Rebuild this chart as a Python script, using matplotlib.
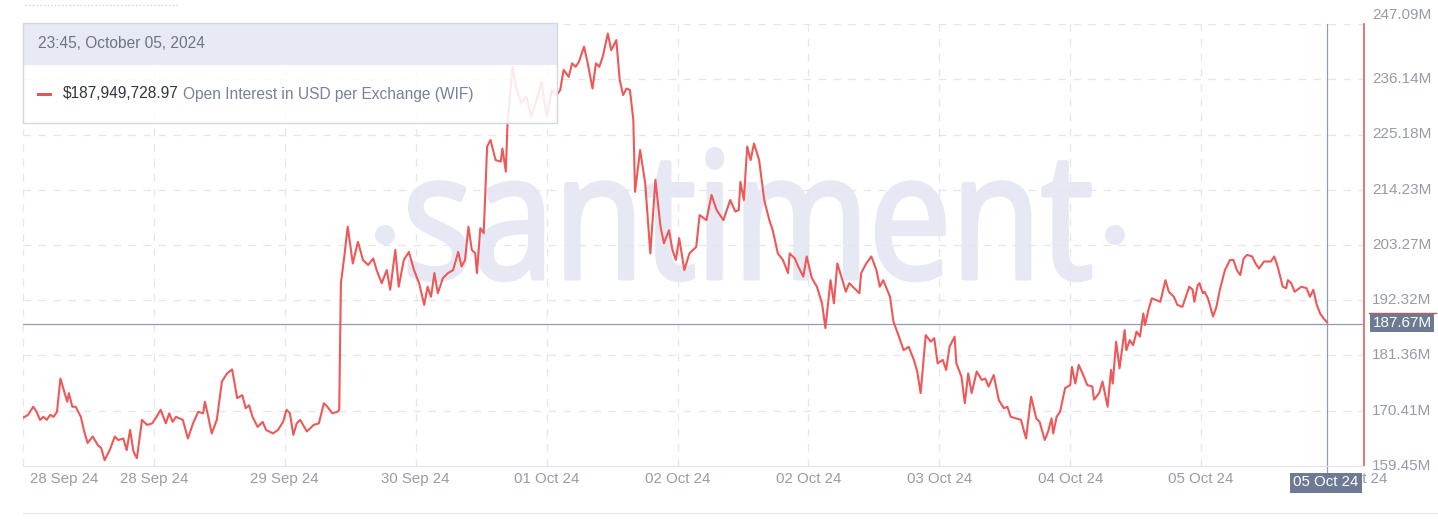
import matplotlib.pyplot as plt
from matplotlib.patches import Rectangle, PathPatch, Circle
from matplotlib.lines import Line2D
from matplotlib.text import Annotation
from matplotlib.textpath import TextPath
from matplotlib.font_manager import FontProperties
from matplotlib.transforms import Affine2D, IdentityTransform

plt.rcParams['font.family'] = ['Liberation Sans', 'DejaVu Sans']

# hours since 28 Sep 2024 00:00 and open interest in millions of USD
hours = [0, 0.75, 1.5, 2.0, 2.5, 3.0, 3.5, 4.0, 4.5, 5.0, 5.5, 6.0, 6.5, 6.75, 7.25, 7.75,
         8.5, 9.0, 9.5, 10.25, 11.0, 11.5, 12.0, 12.75, 13.5, 14.0, 14.75, 15.25, 15.75,
         16.25, 16.75, 17.5, 18.25, 19.0, 19.5, 20.25, 21.0, 21.5, 22.0, 22.5, 23.5, 24.25,
         25.0, 25.75, 26.5, 26.75, 27.25, 27.75, 28.5, 29.25, 30.0, 30.75, 31.5, 32.25,
         32.75, 33.25, 33.75, 34.5, 35.25, 35.75, 36.75, 37.5, 38.25, 38.75, 39.25, 39.75,
         40.25, 40.75, 41.75, 42.75, 43.5, 44.25, 44.75, 45.5, 46.25, 46.5, 46.75, 47.25,
         47.75, 48.5, 49.25, 50.0, 50.75, 51.5, 52.0, 52.75, 53.5, 54.0, 54.75, 55.25, 56.0,
         56.75, 57.5, 58.25, 59.0, 59.5, 60.0, 60.5, 61.0, 61.75, 62.5, 63.25, 64.0, 64.5,
         65.0, 65.5, 66.0, 66.5, 66.75, 67.25, 67.75, 68.25, 68.75, 69.5, 70.25, 70.5, 71.0,
         71.25, 72.0, 72.5, 73.25, 74.0, 74.75, 75.5, 76.25, 77.0, 77.75, 78.5, 79.0, 79.5,
         80.25, 80.75, 81.25, 81.75, 82.5, 83.0, 83.75, 84.25, 84.75, 85.25, 86.0, 86.5,
         87.25, 87.75, 88.25, 88.75, 89.25, 89.75, 90.0, 90.75, 91.5, 92.25, 93.0, 93.75,
         94.25, 95.0, 95.5, 96.0, 96.5, 97.25, 98.0, 99.0, 99.5, 100.5, 101.25, 102.0,
         103.0, 104.0, 104.75, 105.25, 105.5, 106.0, 106.5, 107.0, 107.5, 108.25, 109.0,
         109.75, 110.25, 111.0, 111.75, 112.5, 112.75, 113.5, 114.0, 114.75, 115.25, 116.0,
         116.75, 117.5, 118.0, 118.75, 119.25, 119.75, 120.5, 121.0, 121.5, 122.25, 123.0,
         123.25, 124.0, 124.75, 125.5, 126.0, 126.5, 127.5, 128.0, 129.0, 129.5, 130.25,
         131.0, 131.5, 132.0, 132.75, 133.5, 134.0, 134.5, 135.25, 135.75, 136.25, 137.0,
         137.25, 138.0, 138.5, 139.0, 139.5, 140.25, 141.0, 141.5, 142.0, 142.75, 143.5,
         144.25, 144.75, 145.25, 146.0, 146.75, 147.5, 148.25, 149.0, 149.5, 150.25, 150.75,
         151.25, 151.5, 152.0, 152.5, 153.25, 154.0, 154.25, 154.75, 155.25, 156.0, 156.5,
         157.25, 157.5, 158.25, 158.75, 159.5, 160.0, 160.25, 160.75, 161.25, 162.0, 162.25,
         162.75, 163.25, 163.75, 164.25, 164.75, 165.0, 165.5, 166.0, 166.75, 167.25, 168.0,
         168.5, 169.25, 169.75, 170.5, 171.0, 171.5, 172.0, 172.25, 172.75, 173.0, 173.5,
         173.75, 174.25, 175.0, 175.5, 176.0, 176.75, 177.5, 178.0, 178.5, 179.0, 179.5,
         180.0, 180.75, 181.25, 181.75, 182.5, 183.5, 184.0, 184.5, 185.25, 185.75, 186.0,
         186.5, 187.0, 188.0, 188.75, 189.25, 189.75, 190.25, 190.75, 191.25, 191.75]
oi_musd = [169.0, 169.6, 171.2, 170.2, 168.6, 169.2, 168.6, 169.6, 169.2, 170.2, 176.8, 174.5,
           172.2, 173.9, 171.2, 171.2, 169.2, 166.3, 164.0, 165.3, 163.6, 163.0, 160.6, 162.6,
           165.3, 164.6, 164.9, 162.6, 166.6, 162.3, 161.0, 168.6, 167.6, 167.9, 168.9, 170.6,
           167.9, 169.9, 168.2, 169.2, 168.6, 164.9, 167.9, 170.2, 169.9, 172.2, 169.2, 165.9,
           168.6, 176.2, 177.8, 178.6, 172.9, 173.5, 170.9, 171.5, 169.2, 167.2, 168.2, 166.6,
           165.9, 166.6, 168.2, 170.6, 169.9, 165.6, 167.9, 168.6, 166.3, 167.6, 167.9, 171.9,
           171.2, 169.9, 170.2, 170.6, 195.7, 201.0, 206.9, 199.6, 203.9, 200.3, 199.3, 200.6,
           198.3, 195.7, 198.3, 194.4, 202.3, 195.0, 200.3, 201.9, 198.3, 195.7, 191.4, 195.0,
           193.0, 197.7, 193.7, 196.7, 197.7, 198.3, 201.9, 199.0, 200.3, 206.9, 202.3, 201.6,
           197.7, 206.6, 205.6, 222.8, 224.1, 220.1, 219.8, 222.4, 217.8, 227.4, 238.6, 234.7,
           231.4, 232.7, 228.7, 232.0, 235.6, 228.7, 234.0, 233.0, 234.0, 238.0, 236.6, 239.3,
           238.6, 239.6, 242.6, 239.6, 234.3, 239.3, 238.6, 240.6, 245.2, 241.9, 243.9, 236.0,
           233.0, 234.3, 234.0, 228.1, 213.8, 222.1, 215.5, 201.6, 216.2, 206.9, 203.6, 206.2,
           202.3, 200.3, 204.6, 198.3, 201.6, 202.9, 209.2, 208.2, 213.2, 210.2, 208.2, 212.2,
           209.9, 210.2, 215.8, 212.2, 222.8, 220.1, 223.4, 220.1, 212.2, 208.2, 206.2, 201.6,
           200.3, 197.7, 201.6, 200.6, 199.0, 197.0, 201.0, 196.7, 195.0, 191.7, 186.8, 196.3,
           191.7, 199.6, 196.3, 194.0, 195.7, 194.7, 193.7, 197.7, 199.6, 201.0, 198.3, 195.0,
           196.3, 193.0, 188.1, 184.4, 182.4, 183.1, 180.5, 178.2, 173.9, 185.4, 184.1, 184.8,
           179.8, 180.5, 178.5, 183.1, 185.1, 179.8, 177.2, 171.9, 177.8, 173.9, 178.2, 176.5,
           176.8, 175.2, 177.5, 172.5, 170.9, 171.2, 169.2, 168.9, 168.6, 164.9, 173.2, 168.9,
           168.2, 164.6, 166.3, 168.9, 165.9, 169.2, 170.2, 174.9, 175.5, 179.1, 175.8, 179.5,
           177.2, 175.5, 175.2, 172.6, 173.9, 176.2, 171.2, 178.5, 175.8, 184.1, 178.8, 186.4,
           182.4, 184.4, 183.4, 186.1, 185.1, 189.7, 187.4, 190.4, 192.7, 192.3, 192.0, 196.3,
           194.0, 193.0, 191.4, 191.0, 193.0, 195.0, 194.4, 192.0, 195.3, 195.7, 193.7, 194.0,
           192.7, 189.1, 191.0, 194.4, 198.3, 200.3, 200.3, 198.3, 197.3, 200.6, 201.3, 201.0,
           199.6, 198.6, 200.0, 200.0, 201.0, 199.0, 195.0, 194.7, 196.3, 195.7, 194.0, 195.0,
           194.7, 193.0, 194.4, 191.4, 189.7, 188.7, 187.95]

ytick_vals = [159.45, 170.41, 181.36, 192.32, 203.27, 214.23, 225.18, 236.14, 247.09]
ytick_labels = ['159.45M', '170.41M', '181.36M', '192.32M', '203.27M', '214.23M',
                '225.18M', '236.14M', '247.09M']
xtick_hours = [6.0, 19.25, 38.5, 57.75, 77.0, 96.25, 115.5, 134.75, 154.0, 173.25, 195.9]
xtick_labels = ['28 Sep 24', '28 Sep 24', '29 Sep 24', '30 Sep 24', '01 Oct 24', '02 Oct 24',
                '02 Oct 24', '03 Oct 24', '04 Oct 24', '05 Oct 24', '06 Oct 24']
grid_hours = [0] + xtick_hours[1:-1]

cursor_hour = 191.75
cursor_value = 187.67
cursor_date = '05 Oct 24'
tooltip_time = '23:45, October 05, 2024'
tooltip_value = '$187,949,728.97'
metric_name = 'Open Interest in USD per Exchange (WIF)'

W, H = 1438, 520
fx = lambda x: x / W
fy = lambda y: 1 - y / H

fig = plt.figure(figsize=(W / 100, H / 100), dpi=100)
ax = fig.add_axes([fx(23), fy(466), (1364 - 23) / W, (466 - 24) / H])
ax.set_xlim(0, 197.2)
ax.set_ylim(159.45, 247.09)

red = '#ee5858'
grid_c = '#e3e6ed'
label_c = '#959ca9'
slate = '#6d7a93'

# watermark
fp = FontProperties(family='Open Sans')
tp = TextPath((0, 0), 'santiment', size=100, prop=fp)
ext = tp.get_extents()
tr = (Affine2D().translate(-ext.x0, -ext.y0)
      .scale((1090 - 410) / ext.width, (280 - 149) / ext.height)
      .translate(410, H - 280))
wm = '#e6e9f3'
ax.add_patch(PathPatch(tr.transform_path(tp), transform=IdentityTransform(),
                       fc=wm, ec=wm, lw=3.2, joinstyle='round', zorder=0.5))
for cx in (385, 1115):
    ax.add_patch(Circle((cx, H - 235), 10, transform=IdentityTransform(),
                        fc=wm, ec='none', zorder=0.5))

# grid
for v in ytick_vals[1:]:
    ax.axhline(v, color=grid_c, lw=0.9, ls=(0, (6, 6)), zorder=1)
for h in grid_hours:
    ax.axvline(h, color=grid_c, lw=0.9, ls=(0, (6, 6)), zorder=1)

for s in ['left', 'top']:
    ax.spines[s].set_visible(False)
ax.spines['bottom'].set_color('#e2e5ec')
ax.spines['right'].set_color('#e86a6a')
ax.spines['right'].set_linewidth(1.3)

ax.plot(hours, oi_musd, color=red, lw=1.5, zorder=3)

# crosshair
ax.axhline(cursor_value, color='#8f9bb7', lw=0.9, zorder=2.5)
ax.axvline(cursor_hour, ymin=-0.017, ymax=1, color='#8f9bb7', lw=0.9, zorder=2.5,
           clip_on=False)

ax.set_yticks([])
for v, lab in zip(ytick_vals, ytick_labels):
    dy = 6.5 if v == ytick_vals[-1] else 0
    ax.annotate(lab, xy=(1, v), xycoords=('axes fraction', 'data'), xytext=(6, dy),
                textcoords='offset points', ha='left', va='center', color=label_c,
                fontsize=11)

ax.set_xticks(xtick_hours, xtick_labels)
ax.tick_params(axis='x', length=0, pad=4.5, labelcolor=label_c, labelsize=10.8)

# cursor labels
fig.text(fx(1326), fy(482.5), cursor_date, ha='center', va='center', color='white',
         fontsize=10.8, zorder=10,
         bbox=dict(boxstyle='square,pad=0.2', fc=slate, ec='none'))
fig.text(fx(1402), fy(323), '%.2fM' % cursor_value, ha='center', va='center',
         color='white', fontsize=11, zorder=10,
         bbox=dict(boxstyle='square,pad=0.15', fc=slate, ec='none'))
fig.add_artist(Line2D([fx(1369), fx(1436)], [fy(312.5)] * 2, color='#c25a5a', lw=1,
                      zorder=11))

# tooltip
fig.add_artist(Rectangle((fx(23), fy(123)), (557 - 23) / W, (123 - 23) / H,
                         transform=fig.transFigure, fc='white', ec='none', alpha=0.88,
                         zorder=2))
fig.add_artist(Rectangle((fx(23), fy(65)), (557 - 23) / W, (65 - 23) / H,
                         transform=fig.transFigure, fc='#e7eaf4', ec='none', zorder=2.1))
fig.add_artist(Rectangle((fx(23), fy(123)), (557 - 23) / W, (123 - 23) / H,
                         transform=fig.transFigure, fill=False, ec='#d3d7e1', lw=1,
                         zorder=2.2))
fig.text(fx(38), fy(44), tooltip_time, ha='left', va='center', color='#6d7583',
         fontsize=11.2, zorder=5)
fig.add_artist(Line2D([fx(38), fx(50)], [fy(94)] * 2, color='#e05858', lw=2.2, zorder=5))
t1 = fig.text(fx(63), fy(94), tooltip_value, ha='left', va='center', color='#30363f',
              fontsize=11.2, zorder=5)
fig.add_artist(Annotation(metric_name, xy=(1, 0.5), xycoords=t1, xytext=(3.2, 0),
                          textcoords='offset points', ha='left', va='center',
                          color='#76819a', fontsize=11.2, zorder=5))

# page decorations
fig.add_artist(Line2D([fx(25), fx(178)], [fy(5)] * 2, color='#cfd3dc', lw=1, ls=':'))
fig.add_artist(Line2D([fx(23), 1], [fy(513)] * 2, color='#e6e8ee', lw=1))

fig.savefig('out.png', dpi=100)
